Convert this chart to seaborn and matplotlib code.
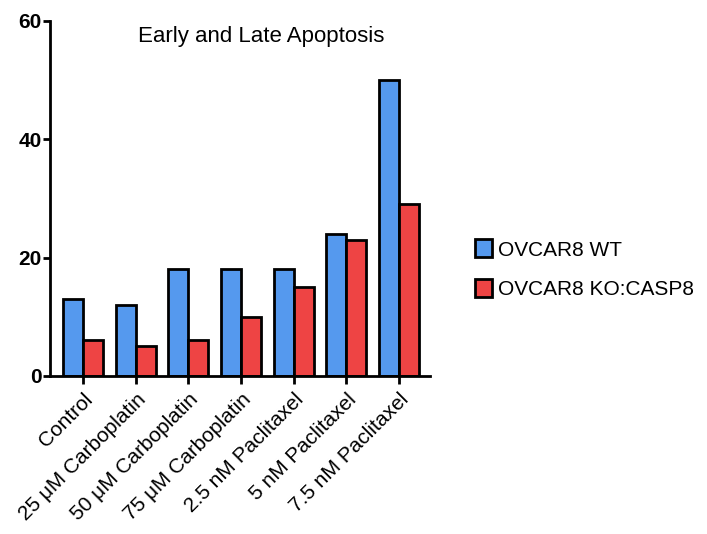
import pandas as pd
import numpy as np
import matplotlib
matplotlib.use('Agg')
import matplotlib.pyplot as plt
import seaborn as sns

# data
categories = ['Control', '25 \u03bcM Carboplatin', '50 \u03bcM Carboplatin', '75 \u03bcM Carboplatin',
              '2.5 nM Paclitaxel', '5 nM Paclitaxel', '7.5 nM Paclitaxel']
wt_values = [13, 12, 18, 18, 18, 24, 50]
ko_values = [6, 5, 6, 10, 15, 23, 29]
series_names = ['OVCAR8 WT', 'OVCAR8 KO:CASP8']

df = pd.DataFrame({
    'treatment': categories * 2,
    'value': wt_values + ko_values,
    'line': [series_names[0]] * len(categories) + [series_names[1]] * len(categories),
})

sns.set_style('white')
plt.rcParams['font.family'] = ['Liberation Sans', 'DejaVu Sans']
plt.rcParams['text.color'] = 'black'
plt.rcParams['xtick.color'] = 'black'
plt.rcParams['ytick.color'] = 'black'

fig = plt.figure(figsize=(7.07, 5.34), dpi=100)
ax = fig.add_axes([0.0707, 0.296, 0.537, 0.665])

sns.barplot(data=df, x='treatment', y='value', hue='line',
            palette=['#5599EE', '#EE4444'], width=0.76, gap=0,
            edgecolor='black', linewidth=2, saturation=1, ax=ax)

ax.set_ylim(0, 60)
ax.set_xlim(-0.63, 6.58)
ax.set_yticks([0, 20, 40, 60])
ax.set_yticklabels(['0', '20', '40', '60'], fontweight='bold', fontsize=15)
ax.set_xticks(range(len(categories)))
ax.set_xticklabels(categories, rotation=45, ha='right', rotation_mode='anchor', fontsize=15)
ax.set_xlabel('')
ax.set_ylabel('')

for side in ['top', 'right']:
    ax.spines[side].set_visible(False)
for side in ['left', 'bottom']:
    ax.spines[side].set_linewidth(2)
    ax.spines[side].set_color('black')

ax.tick_params(axis='y', direction='out', length=5, width=2, pad=1, left=True)
ax.tick_params(axis='x', direction='out', length=6, width=2, pad=4, bottom=True)

ax.text(0.557, 0.955, 'Early and Late Apoptosis', transform=ax.transAxes,
        ha='center', va='center', fontsize=16)

ax.legend(loc='center left', bbox_to_anchor=(1.07, 0.3), frameon=False,
          fontsize=15, handlelength=0.8, handleheight=0.95, handletextpad=0.3,
          labelspacing=0.95)

fig.savefig('out.png', dpi=100)
